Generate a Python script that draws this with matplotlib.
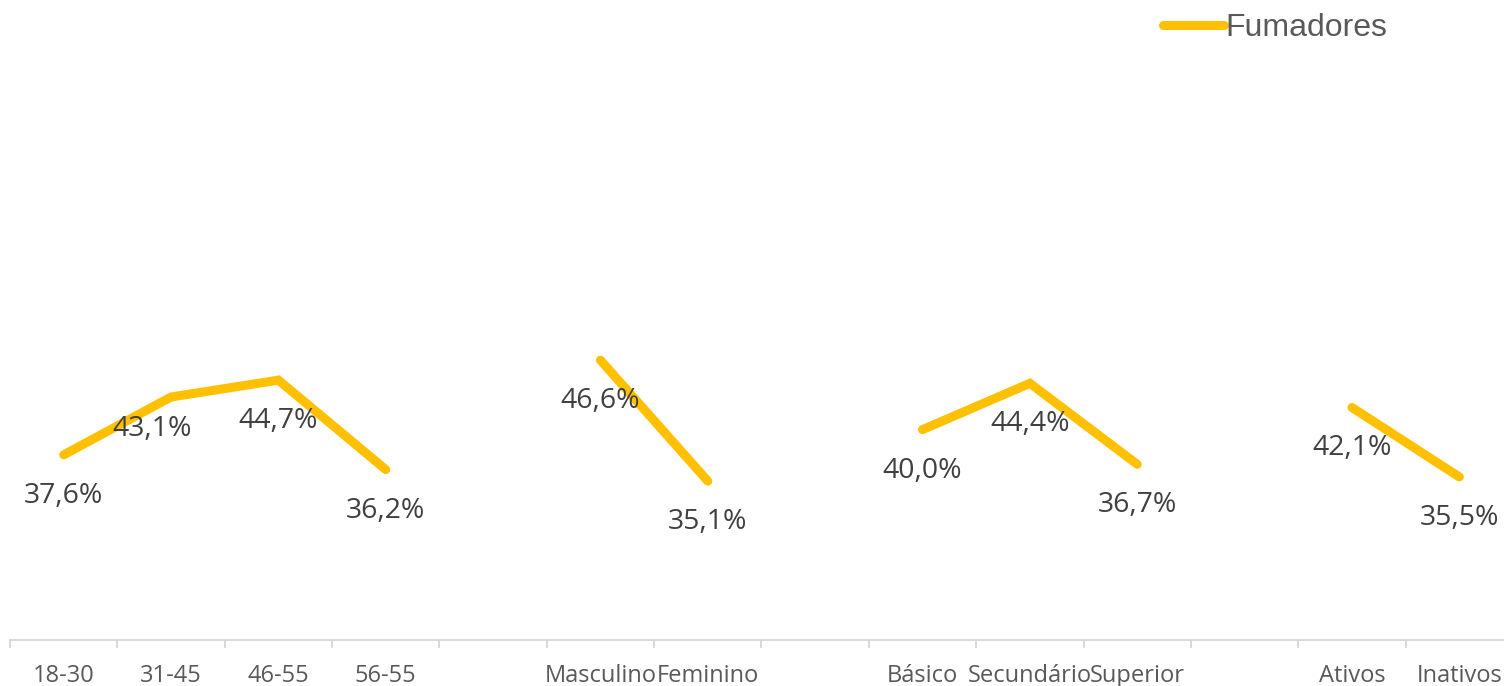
import numpy as np
import matplotlib
matplotlib.use("Agg")
import matplotlib.pyplot as plt
from matplotlib.ticker import FixedLocator

categories = ["18-30", "31-45", "46-55", "56-55", "",
              "Masculino", "Feminino", "",
              "Básico", "Secundário", "Superior", "",
              "Ativos", "Inativos"]
fumadores = [37.6, 43.1, 44.7, 36.2, None,
             46.6, 35.1, None,
             40.0, 44.4, 36.7, None,
             42.1, 35.5]
series_name = "Fumadores"

W, H = 1504, 686
fig = plt.figure(figsize=(W / 100, H / 100), dpi=100)
ax = fig.add_axes([10 / W, (H - 640) / H, 1503 / W, 580 / H])

y = np.array([np.nan if v is None else v for v in fumadores], dtype=float)
x = np.arange(len(categories))
gold = "#FFC000"
line, = ax.plot(x, y, color=gold, lw=6.5, solid_capstyle="round",
                solid_joinstyle="miter", label=series_name, clip_on=False)

ax.set_xlim(-0.5, len(categories) - 0.5)
ax.set_ylim(20, 20 + 580 / 10.52)

# labels
offsets = {1: (-14, -23)}
for i, v in enumerate(fumadores):
    if v is None:
        continue
    dx, dy = offsets.get(i, (0, -29.5))
    ax.annotate(f"{v:.1f}%".replace(".", ","), (i, v), xytext=(dx, dy),
                textcoords="offset points", ha="center", va="center",
                fontsize=20.4, color="#404040", family="Open Sans")

for s in ["top", "left", "right"]:
    ax.spines[s].set_visible(False)
ax.spines["bottom"].set_color("#D9D9D9")
ax.spines["bottom"].set_linewidth(1.4)
ax.set_yticks([])
ax.set_xticks(x)
ax.set_xticklabels(categories, fontsize=17, color="#595959", family="Open Sans")
ax.tick_params(axis="x", which="major", length=0, pad=17)
ax.xaxis.set_minor_locator(FixedLocator(np.arange(-0.5, len(categories), 1.0)))
ax.tick_params(axis="x", which="minor", length=6, width=1.4, color="#D9D9D9")

leg = fig.legend(handles=[line], loc="center left",
                 bbox_to_anchor=(1163 / W, 1 - 28 / H), frameon=False,
                 prop={"family": "Liberation Sans", "size": 23},
                 handlelength=1.9, handletextpad=0.05, borderpad=0,
                 borderaxespad=0)
for t in leg.get_texts():
    t.set_color("#595959")

fig.savefig("out.png", dpi=100)
